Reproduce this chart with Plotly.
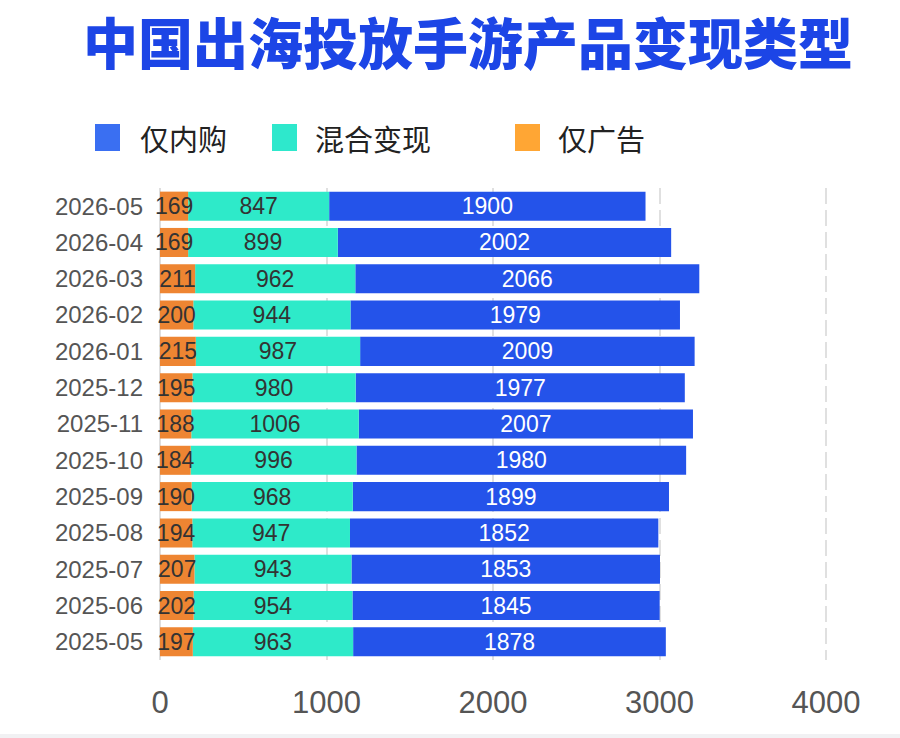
import plotly.graph_objects as go

months = ["2026-05", "2026-04", "2026-03", "2026-02", "2026-01", "2025-12", "2025-11",
          "2025-10", "2025-09", "2025-08", "2025-07", "2025-06", "2025-05"]
ad_only = [169, 169, 211, 200, 215, 195, 188, 184, 190, 194, 207, 202, 197]
hybrid = [847, 899, 962, 944, 987, 980, 1006, 996, 968, 947, 943, 954, 963]
iap_only = [1900, 2002, 2066, 1979, 2009, 1977, 2007, 1980, 1899, 1852, 1853, 1845, 1878]
x_ticks = [0, 1000, 2000, 3000, 4000]

series_names = ["仅内购", "混合变现", "仅广告"]
bar_colors = {"仅广告": "#ee8532", "混合变现": "#2eeac9", "仅内购": "#2453ea"}
legend_colors = {"仅内购": "#3a6ff2", "混合变现": "#2ee8cc", "仅广告": "#ffa634"}

W, H = 900, 738
L, R, T, B = 160, 72, 188, 78
PW, PH = W - L - R, H - T - B

def px(x):
    return (x - L) / PW

def py(y):
    return (H - B - y) / PH

num_font = "Liberation Sans, Arial, sans-serif"
cjk_font = "Noto Sans CJK SC, sans-serif"

# stacked bars with explicit bases; drawn so the small orange labels sit on top
base_hybrid = ad_only
base_iap = [a + h for a, h in zip(ad_only, hybrid)]
stack = [
    ("仅内购", iap_only, base_iap, "#ffffff"),
    ("混合变现", hybrid, base_hybrid, "#333333"),
    ("仅广告", ad_only, [0] * len(ad_only), "#333333"),
]

fig = go.Figure()
for name, vals, base, tcol in stack:
    fig.add_trace(go.Bar(
        y=months, x=vals, base=base, name=name, orientation="h",
        marker=dict(color=bar_colors[name], line=dict(width=0)),
        text=vals, texttemplate="%{text}", textposition="inside",
        insidetextanchor="middle", textangle=0, constraintext="none",
        insidetextfont=dict(family=num_font, size=23, color=tcol),
        showlegend=False, cliponaxis=False,
    ))

shapes = []
annotations = []
legend_pos = {"仅内购": (95, 138), "混合变现": (272, 313), "仅广告": (515, 556)}
for name in series_names:
    sx, tx = legend_pos[name]
    shapes.append(dict(type="rect", xref="paper", yref="paper",
                       x0=px(sx), x1=px(sx + 25), y0=py(151), y1=py(124),
                       fillcolor=legend_colors[name], line=dict(width=0), layer="above"))
    annotations.append(dict(text=name, xref="paper", yref="paper", x=px(tx), y=py(138),
                            xanchor="left", yanchor="middle", showarrow=False,
                            font=dict(family=cjk_font, size=29, color="#222222")))

# light band at the bottom edge
shapes.append(dict(type="rect", xref="paper", yref="paper",
                   x0=px(0), x1=px(W), y0=py(H), y1=py(H - 4),
                   fillcolor="#f1f1f3", line=dict(width=0), layer="below"))

fig.update_layout(
    width=W, height=H,
    margin=dict(l=L, r=R, t=T, b=B, pad=0),
    paper_bgcolor="white", plot_bgcolor="white",
    barmode="overlay", bargap=0.2,
    title=dict(text="中国出海投放手游产品变现类型", x=468 / W, xanchor="center",
               y=1 - 45 / H, yanchor="middle", xref="container", yref="container",
               font=dict(family=cjk_font, size=55, color="#1c45e6", weight=900)),
    shapes=shapes, annotations=annotations,
    showlegend=False,
    xaxis=dict(range=[0, 4012], tickvals=x_ticks, ticktext=[str(v) for v in x_ticks],
               showgrid=True, gridcolor="#e0e0e0", gridwidth=2, griddash="16px,6px",
               zeroline=True, zerolinecolor="#dedede", zerolinewidth=2,
               showline=False, ticks="", ticklabelstandoff=21,
               tickfont=dict(family=num_font, size=31, color="#555555")),
    yaxis=dict(type="category", categoryorder="array", categoryarray=months[::-1],
               showgrid=False, zeroline=False, showline=False, ticks="",
               ticklabelstandoff=16,
               tickfont=dict(family=num_font, size=24, color="#555555")),
)

fig.write_html("out.html")
